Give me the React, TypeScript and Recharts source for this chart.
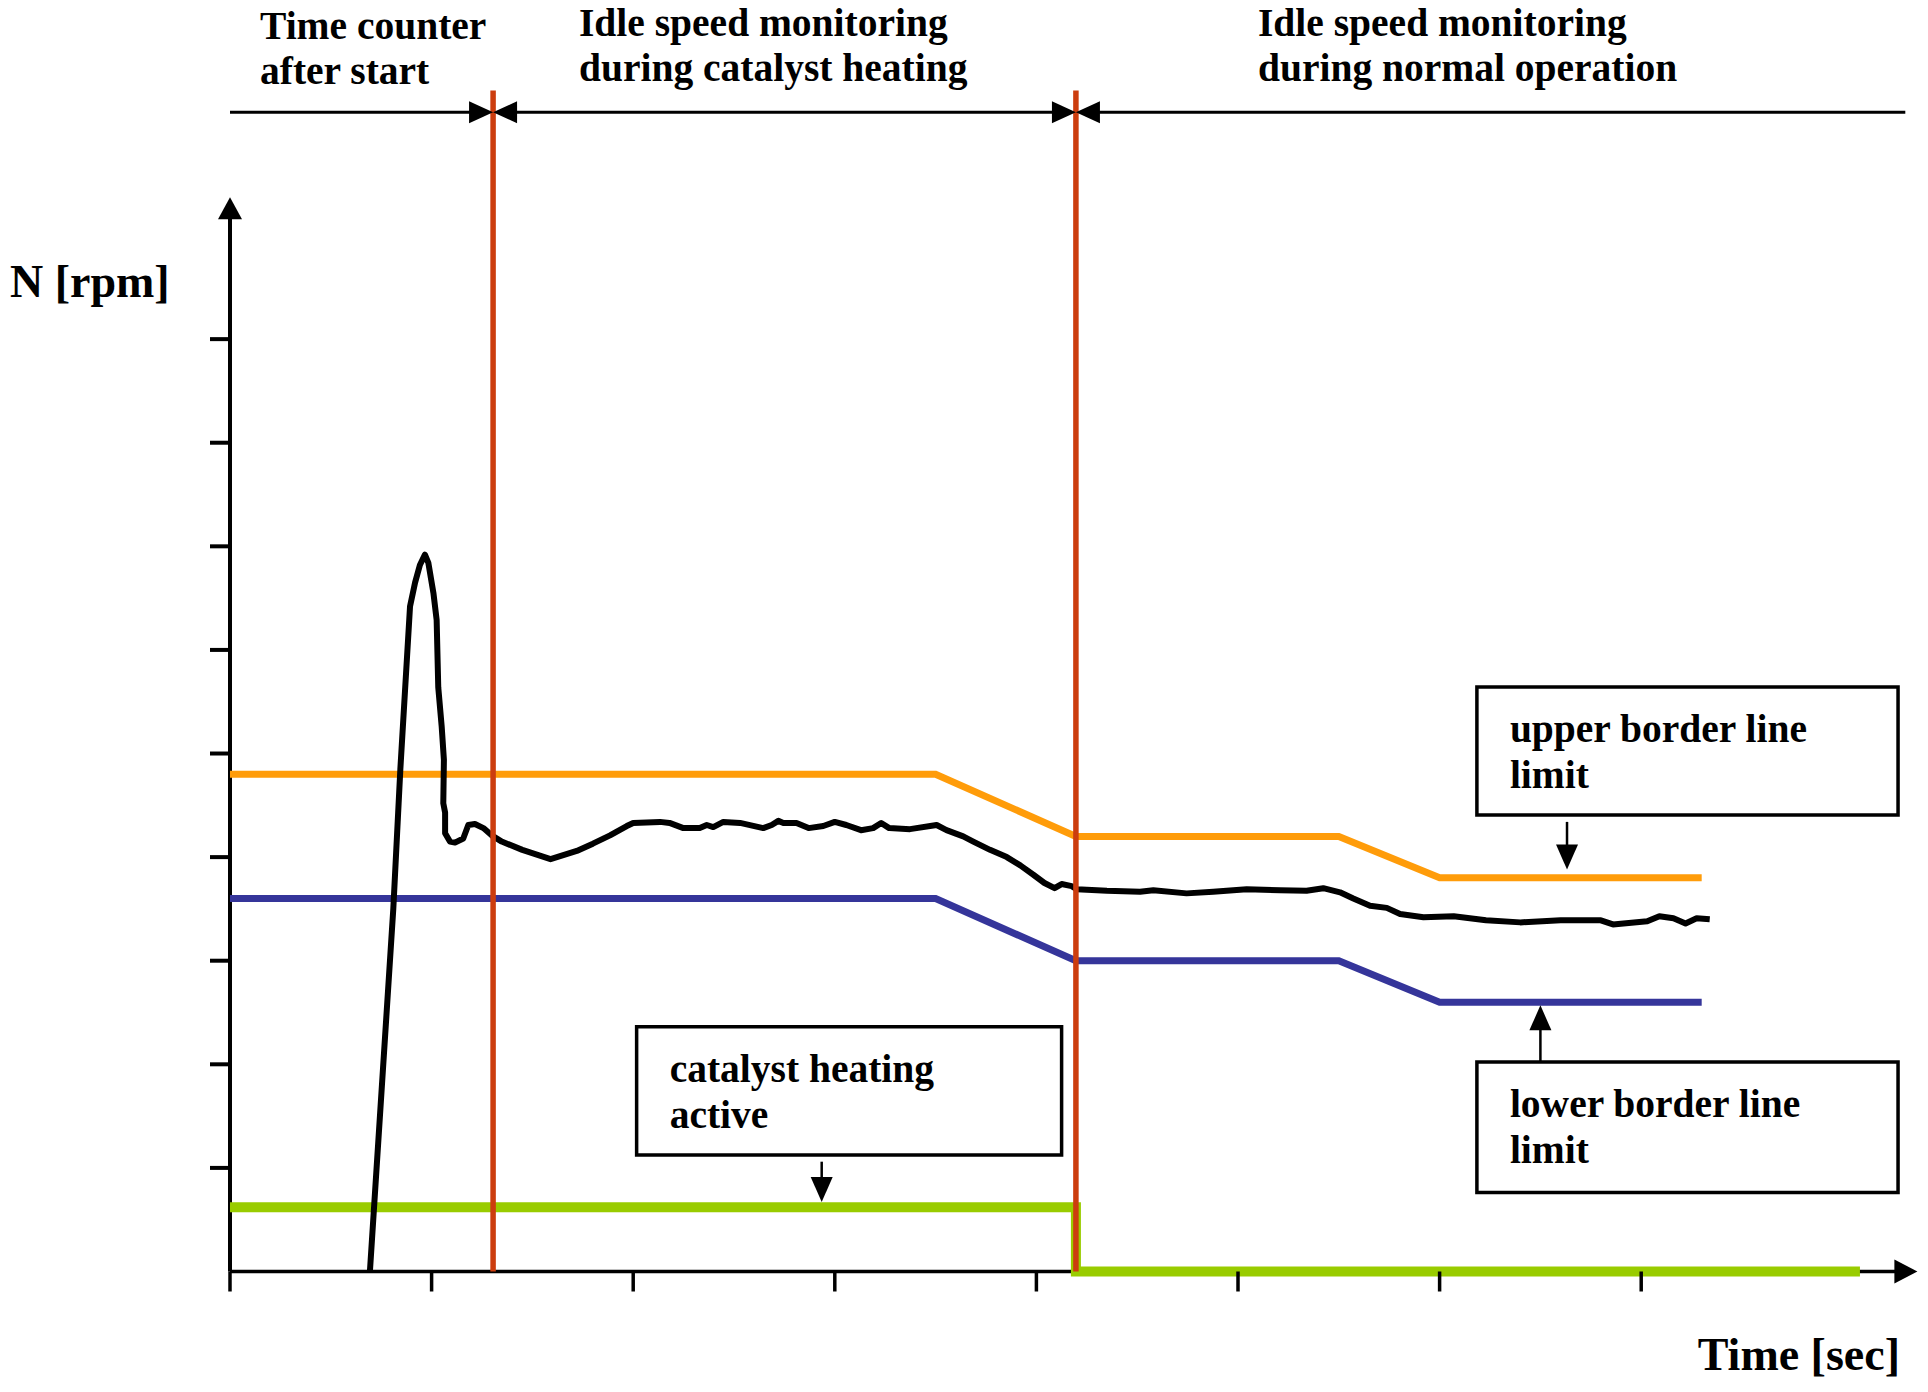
import React from "react";
import { LineChart, Line, XAxis, YAxis, ReferenceLine, ReferenceArea } from "recharts";

const SERIF = '"Liberation Serif", "Times New Roman", serif';
const RED = "#cc3d0e";
const ORANGE = "#ff9c0a";
const BLUE = "#35359a";
const GREEN = "#99cc00";

// both axes are unlabeled; values are in tick units
const xTicks = [0, 1, 2, 3, 4, 5, 6, 7];
const yTicks = [1, 2, 3, 4, 5, 6, 7, 8, 9];
const phaseEnds = [1.305, 4.196];

const phaseTitles = [
  ["Time counter", "after start"],
  ["Idle speed monitoring", "during catalyst heating"],
  ["Idle speed monitoring", "during normal operation"],
];
const upperText = ["upper border line", "limit"];
const lowerText = ["lower border line", "limit"];
const heatingText = ["catalyst heating", "active"];

const upperLimit = [
  { t: 0, n: 4.8 },
  { t: 3.5, n: 4.8 },
  { t: 4.196, n: 4.2 },
  { t: 5.5, n: 4.2 },
  { t: 6.0, n: 3.8 },
  { t: 7.3, n: 3.8 },
];

const lowerLimit = [
  { t: 0, n: 3.6 },
  { t: 3.5, n: 3.6 },
  { t: 4.196, n: 3.0 },
  { t: 5.5, n: 3.0 },
  { t: 6.0, n: 2.6 },
  { t: 7.3, n: 2.6 },
];

const heatingFlag = [
  { t: 0, n: 0.62 },
  { t: 4.196, n: 0.62 },
  { t: 4.196, n: 0 },
  { t: 8.085, n: 0 },
];

const engineSpeed = [
  { t: 0.694, n: 0 }, { t: 0.81, n: 3.5 }, { t: 0.845, n: 4.85 }, { t: 0.893, n: 6.42 },
  { t: 0.918, n: 6.65 }, { t: 0.942, n: 6.82 }, { t: 0.967, n: 6.92 }, { t: 0.984, n: 6.84 },
  { t: 1.009, n: 6.55 }, { t: 1.025, n: 6.29 }, { t: 1.033, n: 5.64 }, { t: 1.05, n: 5.26 },
  { t: 1.061, n: 4.94 }, { t: 1.058, n: 4.52 }, { t: 1.067, n: 4.43 }, { t: 1.067, n: 4.23 },
  { t: 1.091, n: 4.15 }, { t: 1.116, n: 4.14 }, { t: 1.157, n: 4.18 }, { t: 1.182, n: 4.31 },
  { t: 1.215, n: 4.32 }, { t: 1.257, n: 4.28 }, { t: 1.298, n: 4.21 }, { t: 1.348, n: 4.15 },
  { t: 1.45, n: 4.07 }, { t: 1.59, n: 3.98 }, { t: 1.72, n: 4.06 }, { t: 1.8, n: 4.13 },
  { t: 1.885, n: 4.21 }, { t: 1.968, n: 4.3 }, { t: 2.0, n: 4.33 }, { t: 2.133, n: 4.34 },
  { t: 2.18, n: 4.33 }, { t: 2.249, n: 4.28 }, { t: 2.33, n: 4.28 }, { t: 2.365, n: 4.31 },
  { t: 2.397, n: 4.29 }, { t: 2.447, n: 4.34 }, { t: 2.53, n: 4.33 }, { t: 2.645, n: 4.28 },
  { t: 2.687, n: 4.31 }, { t: 2.72, n: 4.35 }, { t: 2.745, n: 4.33 }, { t: 2.81, n: 4.33 },
  { t: 2.87, n: 4.28 }, { t: 2.943, n: 4.3 }, { t: 3.0, n: 4.34 }, { t: 3.057, n: 4.31 },
  { t: 3.13, n: 4.26 }, { t: 3.19, n: 4.28 }, { t: 3.23, n: 4.33 }, { t: 3.27, n: 4.28 },
  { t: 3.373, n: 4.27 }, { t: 3.505, n: 4.31 }, { t: 3.554, n: 4.26 }, { t: 3.637, n: 4.2 },
  { t: 3.687, n: 4.15 }, { t: 3.77, n: 4.07 }, { t: 3.853, n: 4.0 }, { t: 3.92, n: 3.92 },
  { t: 3.985, n: 3.83 }, { t: 4.04, n: 3.75 }, { t: 4.09, n: 3.7 }, { t: 4.125, n: 3.74 },
  { t: 4.175, n: 3.72 }, { t: 4.2, n: 3.69 }, { t: 4.35, n: 3.675 }, { t: 4.514, n: 3.666 },
  { t: 4.58, n: 3.68 }, { t: 4.745, n: 3.65 }, { t: 4.877, n: 3.666 }, { t: 5.043, n: 3.69 },
  { t: 5.208, n: 3.68 }, { t: 5.34, n: 3.675 }, { t: 5.423, n: 3.7 }, { t: 5.506, n: 3.66 },
  { t: 5.572, n: 3.6 }, { t: 5.655, n: 3.53 }, { t: 5.738, n: 3.51 }, { t: 5.804, n: 3.45 },
  { t: 5.92, n: 3.42 }, { t: 6.07, n: 3.43 }, { t: 6.23, n: 3.39 }, { t: 6.4, n: 3.37 },
  { t: 6.6, n: 3.39 }, { t: 6.8, n: 3.39 }, { t: 6.86, n: 3.35 }, { t: 7.03, n: 3.38 },
  { t: 7.09, n: 3.43 }, { t: 7.16, n: 3.41 }, { t: 7.22, n: 3.36 }, { t: 7.275, n: 3.41 },
  { t: 7.34, n: 3.4 },
];

// custom ReferenceLine shape: line with filled arrowheads
function arrow(head: "start" | "end" | "both", sw = 3, hl = 24, hw = 22) {
  return (p: any) => {
    const { x1, y1, x2, y2 } = p;
    const len = Math.hypot(x2 - x1, y2 - y1) || 1;
    const ux = (x2 - x1) / len;
    const uy = (y2 - y1) / len;
    const tri = (tx: number, ty: number, dx: number, dy: number) => {
      const bx = tx - dx * hl;
      const by = ty - dy * hl;
      return `${tx},${ty} ${bx - (dy * hw) / 2},${by + (dx * hw) / 2} ${bx + (dy * hw) / 2},${by - (dx * hw) / 2}`;
    };
    const s = head !== "end";
    const e = head !== "start";
    return (
      <g>
        <line
          x1={s ? x1 + ux * hl * 0.8 : x1}
          y1={s ? y1 + uy * hl * 0.8 : y1}
          x2={e ? x2 - ux * hl * 0.8 : x2}
          y2={e ? y2 - uy * hl * 0.8 : y2}
          stroke="#000"
          strokeWidth={sw}
        />
        {e && <polygon points={tri(x2, y2, ux, uy)} fill="#000" />}
        {s && <polygon points={tri(x1, y1, -ux, -uy)} fill="#000" />}
      </g>
    );
  };
}

function boxLabel(lines: string[]) {
  return (p: any) => {
    const { x, y } = p.viewBox;
    return (
      <text x={x + 33} y={y + 55} fontFamily={SERIF} fontWeight="bold" fontSize={39.5} fill="#000">
        {lines.map((l, i) => (
          <tspan key={i} x={x + 33} dy={i === 0 ? 0 : 46}>
            {l}
          </tspan>
        ))}
      </text>
    );
  };
}

function Title({ x, y, lines }: { x: number; y: number; lines: string[] }) {
  return (
    <text x={x} y={y} fontFamily={SERIF} fontWeight="bold" fontSize={39.5} fill="#000">
      {lines.map((l, i) => (
        <tspan key={i} x={x} dy={i === 0 ? 0 : 45}>
          {l}
        </tspan>
      ))}
    </text>
  );
}

export default function App() {
  return (
    <div style={{ position: "absolute", left: 0, top: 0, background: "#fff" }}>
      <LineChart
        width={1928}
        height={1392}
        margin={{ top: 90.5, right: 10.6, bottom: 100.5, left: 210 }}
      >
        <XAxis
          type="number"
          dataKey="t"
          domain={[0, 8.37]}
          ticks={xTicks}
          height={20}
          tickSize={20}
          tickFormatter={() => ""}
          axisLine={false}
          tickLine={{ stroke: "#000", strokeWidth: 3.5 }}
        />
        <YAxis
          type="number"
          dataKey="n"
          domain={[0, 11.4]}
          ticks={yTicks}
          width={20}
          tickSize={20}
          tickFormatter={() => ""}
          axisLine={false}
          tickLine={{ stroke: "#000", strokeWidth: 4 }}
        />

        {/* axes drawn as arrows */}
        <ReferenceLine segment={[{ x: 0, y: 0 }, { x: 0, y: 10.37 }]} shape={arrow("end", 4, 22, 24)} />
        <ReferenceLine segment={[{ x: 0, y: 0 }, { x: 8.37, y: 0 }]} shape={arrow("end", 3.5, 23, 24)} />

        <Line data={upperLimit} dataKey="n" type="linear" stroke={ORANGE} strokeWidth={7} dot={false} isAnimationActive={false} />
        <Line data={lowerLimit} dataKey="n" type="linear" stroke={BLUE} strokeWidth={7} dot={false} isAnimationActive={false} />
        <Line data={heatingFlag} dataKey="n" type="linear" stroke={GREEN} strokeWidth={10} dot={false} isAnimationActive={false} />
        <Line data={engineSpeed} dataKey="n" type="linear" stroke="#000" strokeWidth={6} strokeLinejoin="round" dot={false} isAnimationActive={false} />

        {phaseEnds.map((x) => (
          <ReferenceLine key={x} x={x} stroke={RED} strokeWidth={5.5} />
        ))}

        {/* phase bar along the top */}
        <ReferenceLine segment={[{ x: 0, y: 11.19 }, { x: phaseEnds[0], y: 11.19 }]} shape={arrow("end", 3, 24, 22)} />
        <ReferenceLine segment={[{ x: phaseEnds[0], y: 11.19 }, { x: phaseEnds[1], y: 11.19 }]} shape={arrow("both", 3, 24, 22)} />
        <ReferenceLine segment={[{ x: phaseEnds[1], y: 11.19 }, { x: 8.31, y: 11.19 }]} shape={arrow("start", 3, 24, 22)} />

        {/* annotation boxes */}
        <ReferenceArea x1={6.185} x2={8.274} y1={4.406} y2={5.642} fill="#fff" fillOpacity={1} stroke="#000" strokeWidth={3.5} label={boxLabel(upperText)} />
        <ReferenceLine segment={[{ x: 6.632, y: 4.34 }, { x: 6.632, y: 3.88 }]} shape={arrow("end", 2.5, 25, 22)} />

        <ReferenceArea x1={6.185} x2={8.274} y1={0.763} y2={2.022} fill="#fff" fillOpacity={1} stroke="#000" strokeWidth={3.5} label={boxLabel(lowerText)} />
        <ReferenceLine segment={[{ x: 6.5, y: 2.022 }, { x: 6.5, y: 2.57 }]} shape={arrow("end", 2.5, 25, 22)} />

        <ReferenceArea x1={2.017} x2={4.125} y1={1.125} y2={2.363} fill="#fff" fillOpacity={1} stroke="#000" strokeWidth={3.5} label={boxLabel(heatingText)} />
        <ReferenceLine segment={[{ x: 2.935, y: 1.06 }, { x: 2.935, y: 0.67 }]} shape={arrow("end", 2.5, 25, 22)} />

        <Title x={260} y={39} lines={phaseTitles[0]} />
        <Title x={579} y={36} lines={phaseTitles[1]} />
        <Title x={1258} y={36} lines={phaseTitles[2]} />

        <text x={10} y={297} fontFamily={SERIF} fontWeight="bold" fontSize={46} fill="#000">
          N [rpm]
        </text>
        <text x={1900} y={1370} textAnchor="end" fontFamily={SERIF} fontWeight="bold" fontSize={46} fill="#000">
          Time [sec]
        </text>
      </LineChart>
    </div>
  );
}
